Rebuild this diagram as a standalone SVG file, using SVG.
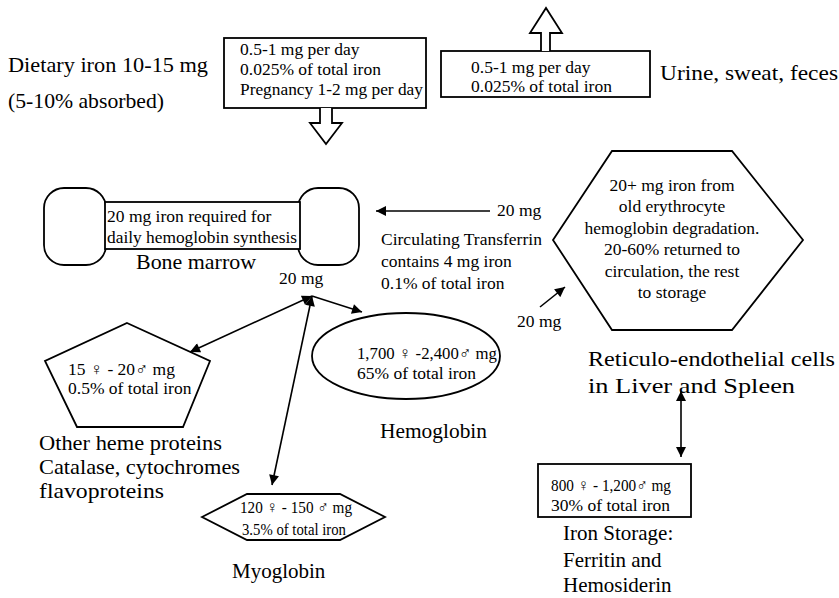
<svg xmlns="http://www.w3.org/2000/svg" width="839" height="598" viewBox="0 0 839 598">
<defs>
<marker id="ah" viewBox="0 0 10 10" refX="10" refY="5" markerWidth="11" markerHeight="10" markerUnits="userSpaceOnUse" orient="auto-start-reverse">
<path d="M0,0 L10,5 L0,10 z" fill="#000"/>
</marker>
</defs>
<style>
text{font-family:"Liberation Serif","Times New Roman",serif;fill:#000}
.s{font-size:17.5px}
.l{font-size:22px}
.b{font-size:21px}
.sh{fill:#fff;stroke:#000;stroke-width:1.8}
.c{fill:none;stroke:#000;stroke-width:1.6}
</style>
<rect width="839" height="598" fill="#fff"/>
<g id="dietary">
<text class="l" x="8" y="72" textLength="200" lengthAdjust="spacingAndGlyphs">Dietary iron 10-15 mg</text>
<text class="l" x="8" y="108" textLength="156" lengthAdjust="spacingAndGlyphs">(5-10% absorbed)</text>
</g>
<g id="absorption">
<rect class="sh" x="224" y="38" width="202" height="70"/>
<path class="sh" d="M320,108 V123 H310 L326,144 L342,123 H332 V108"/>
<text class="s" x="240" y="55">0.5-1 mg per day</text>
<text class="s" x="240" y="75">0.025% of total iron</text>
<text class="s" x="240" y="95" textLength="183" lengthAdjust="spacingAndGlyphs">Pregnancy 1-2 mg per day</text>
</g>
<g id="loss">
<rect class="sh" x="441" y="51" width="209" height="46"/>
<path class="sh" d="M541,51 V33 H530 L546,8 L562,33 H550 V51"/>
<text class="s" x="471" y="73">0.5-1 mg per day</text>
<text class="s" x="471" y="92">0.025% of total iron</text>
<text class="l" x="660" y="80" textLength="178" lengthAdjust="spacingAndGlyphs">Urine, sweat, feces</text>
</g>
<g id="bone-marrow">
<rect class="sh" x="44" y="188" width="62" height="77" rx="20"/>
<rect class="sh" x="298" y="188" width="61" height="77" rx="20"/>
<rect class="sh" x="105" y="202" width="195" height="47"/>
<text class="s" x="107" y="222">20 mg iron required for</text>
<text class="s" x="107" y="243" textLength="190" lengthAdjust="spacingAndGlyphs">daily hemoglobin synthesis</text>
<text class="l" x="136" y="269" textLength="120" lengthAdjust="spacingAndGlyphs">Bone marrow</text>
</g>
<g id="transferrin">
<text class="s" x="381" y="245">Circulating Transferrin</text>
<text class="s" x="381" y="267">contains 4 mg iron</text>
<text class="s" x="381" y="289">0.1% of total iron</text>
</g>
<g id="reticulo">
<polygon class="sh" points="612,151 732,151 803,240 732,330 612,330 553,240"/>
<g class="s" text-anchor="middle">
<text x="672" y="191">20+ mg iron from</text>
<text x="672" y="212">old  erythrocyte</text>
<text x="672" y="234">hemoglobin degradation.</text>
<text x="672" y="255">20-60% returned to</text>
<text x="672" y="277">circulation, the rest</text>
<text x="672" y="298">to storage</text>
</g>
<text class="l" x="588" y="366" textLength="247" lengthAdjust="spacingAndGlyphs">Reticulo-endothelial cells</text>
<text class="l" x="588" y="393" textLength="207" lengthAdjust="spacingAndGlyphs">in Liver and Spleen</text>
</g>
<g id="hemoglobin">
<ellipse class="sh" cx="406" cy="356" rx="94" ry="43"/>
<text class="s" x="357" y="359" textLength="140" lengthAdjust="spacingAndGlyphs">1,700 ♀ -2,400♂ mg</text>
<text class="s" x="357" y="379">65% of total iron</text>
<text class="l" x="380" y="438" textLength="107" lengthAdjust="spacingAndGlyphs">Hemoglobin</text>
</g>
<g id="other-heme">
<polygon class="sh" points="127,323 210,361 183,427 77,427 45,361"/>
<text class="s" x="68" y="375">15 ♀ - 20♂ mg</text>
<text class="s" x="68" y="394">0.5% of total iron</text>
<text class="l" x="39" y="450" textLength="183" lengthAdjust="spacingAndGlyphs">Other heme proteins</text>
<text class="l" x="39" y="474" textLength="201" lengthAdjust="spacingAndGlyphs">Catalase, cytochromes</text>
<text class="l" x="39" y="498" textLength="125" lengthAdjust="spacingAndGlyphs">flavoproteins</text>
</g>
<g id="myoglobin">
<polygon class="sh" points="202,517 247,494 340,494 385,517 340,540 247,540"/>
<text class="s" x="240" y="513" textLength="112" lengthAdjust="spacingAndGlyphs">120 ♀ - 150 ♂ mg</text>
<text class="s" x="242" y="535" textLength="104" lengthAdjust="spacingAndGlyphs">3.5% of total iron</text>
<text class="b" x="232" y="578">Myoglobin</text>
</g>
<g id="storage">
<rect class="sh" x="538" y="464" width="153" height="53"/>
<text class="s" x="551" y="491" textLength="120" lengthAdjust="spacingAndGlyphs">800 ♀ - 1,200♂ mg</text>
<text class="s" x="551" y="511">30% of total iron</text>
<text class="b" x="563" y="540">Iron Storage:</text>
<text class="b" x="563" y="567">Ferritin and</text>
<text class="b" x="563" y="592">Hemosiderin</text>
</g>
<g id="connectors">
<line class="c" x1="490" y1="211" x2="376" y2="211" marker-end="url(#ah)"/>
<text class="s" x="497" y="216">20 mg</text>
<text class="s" x="279" y="284">20 mg</text>
<line class="c" x1="540" y1="307" x2="565" y2="287" marker-end="url(#ah)"/>
<text class="s" x="517" y="327">20 mg</text>
<line class="c" x1="312" y1="296" x2="362" y2="312" marker-end="url(#ah)"/>
<line class="c" x1="190" y1="352" x2="312" y2="296" marker-start="url(#ah)" marker-end="url(#ah)"/>
<line class="c" x1="272" y1="485" x2="312" y2="296" marker-start="url(#ah)" marker-end="url(#ah)"/>
<line class="c" x1="681" y1="391" x2="681" y2="457" marker-start="url(#ah)" marker-end="url(#ah)"/>
</g>
</svg>
